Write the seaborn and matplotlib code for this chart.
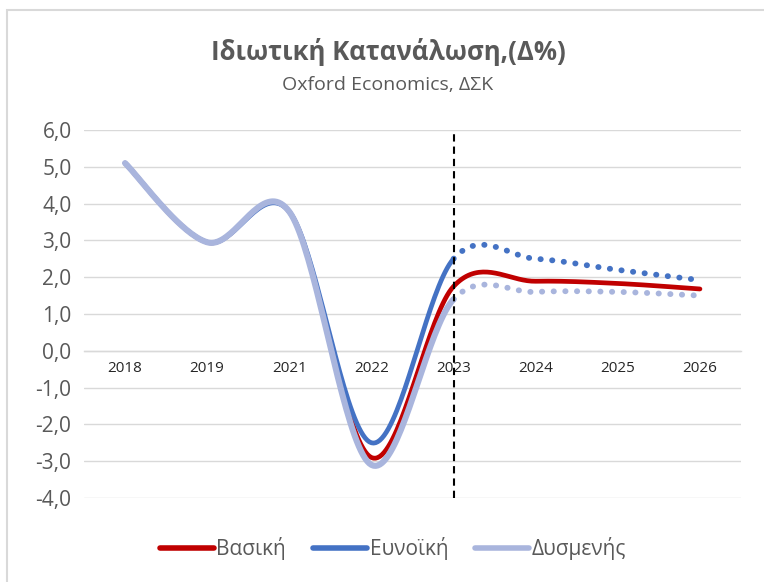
import numpy as np
import pandas as pd
import seaborn as sns
import matplotlib.pyplot as plt
from matplotlib.lines import Line2D
from matplotlib.patches import Rectangle

years = ['2018', '2019', '2021', '2022', '2023', '2024', '2025', '2026']
vasiki = [5.1, 2.95, 3.78, -2.9, 1.75, 1.89, 1.83, 1.68]
eunoiki = [5.1, 2.95, 3.78, -2.5, 2.5, 2.5, 2.2, 1.92]
dysmenis = [5.1, 2.95, 3.78, -3.1, 1.4, 1.6, 1.6, 1.5]
series_names = ['Βασική', 'Ευνοϊκή', 'Δυσμενής']
colors = ['#C00000', '#4472C4', '#A9B5DD']
split_year = '2023'


def smooth(vals, n=40):
    # excel-like smoothed line: cubic bezier through the points
    y = np.asarray(vals, dtype=float)
    x = np.arange(len(y), dtype=float)
    xs, ys, seg = [], [], []
    for i in range(len(y) - 1):
        i0, i2 = max(i - 1, 0), min(i + 2, len(y) - 1)
        p0, p3 = np.array([x[i], y[i]]), np.array([x[i + 1], y[i + 1]])
        c1 = p0 + (np.array([x[i + 1], y[i + 1]]) - np.array([x[i0], y[i0]])) / 6
        c2 = p3 - (np.array([x[i2], y[i2]]) - p0) / 6
        t = np.linspace(0, 1, n)[:, None]
        b = (1 - t) ** 3 * p0 + 3 * (1 - t) ** 2 * t * c1 + 3 * (1 - t) * t ** 2 * c2 + t ** 3 * p3
        xs.extend(b[:, 0]); ys.extend(b[:, 1]); seg.extend([i] * n)
    return pd.DataFrame({'x': xs, 'y': ys, 'seg': seg})


sns.set_theme(style='white')
plt.rcParams['font.family'] = ['Open Sans', 'DejaVu Sans']

fig = plt.figure(figsize=(7.64, 5.82), dpi=100)
ax = fig.add_axes([84 / 764, 1 - 498 / 582, (741 - 84) / 764, (498 - 130) / 582])

split = years.index(split_year)
widths = [3.4, 3.4, 4.4]
for name, vals, col, lw in zip(series_names, [vasiki, eunoiki, dysmenis], colors, widths):
    df = smooth(vals)
    if name == 'Βασική':
        sns.lineplot(data=df, x='x', y='y', sort=False, color=col, lw=lw,
                     solid_capstyle='round', ax=ax, zorder=3)
    else:
        solid = df[df['seg'] < split]
        dotted = df[df['seg'] >= split]
        sns.lineplot(data=solid, x='x', y='y', sort=False, color=col, lw=lw,
                     solid_capstyle='round', ax=ax, zorder=3)
        ax.plot(dotted['x'], dotted['y'], color=col, lw=4.2,
                linestyle=(0, (0.05, 1.95)), dash_capstyle='round', zorder=3)

ax.axvline(split, color='black', lw=1.5, linestyle=(0, (3.5, 2.4)), zorder=4)

ax.set_xlim(-0.5, len(years) - 0.5)
ax.set_ylim(-4, 6)
yt = np.arange(-4, 7)
ax.set_yticks(yt)
ax.set_yticklabels([f'{v:.1f}'.replace('.', ',') for v in yt], fontsize=15, color='#595959')
ax.set_xticks(range(len(years)))
ax.set_xticklabels(years, fontsize=5.2, color='#595959')
ax.tick_params(axis='both', length=0)
ax.tick_params(axis='y', pad=9)
ax.tick_params(axis='x', pad=7)
ax.grid(axis='y', color='#D9D9D9', lw=1.0)
ax.set_axisbelow(True)
for s in ['top', 'right', 'left']:
    ax.spines[s].set_visible(False)
ax.spines['bottom'].set_position(('data', 0))
ax.spines['bottom'].set_color('#D9D9D9')
ax.spines['bottom'].set_linewidth(1.0)
ax.set_xlabel('')
ax.set_ylabel('')

fig.text(388 / 764, 1 - 52 / 582, 'Ιδιωτική Κατανάλωση,(Δ%)', ha='center', va='center',
         fontsize=18.5, fontweight='bold', color='#595959')
fig.text(388 / 764, 1 - 85 / 582, 'Oxford Economics, ΔΣΚ', ha='center', va='center',
         fontsize=14, color='#595959')

handles = [Line2D([], [], color=c, lw=4, solid_capstyle='round') for c in colors]
fig.legend(handles, series_names, loc='center', bbox_to_anchor=(393 / 764, 1 - 549 / 582),
           ncol=3, frameon=False, fontsize=15, handlelength=2.6, handletextpad=0.1,
           columnspacing=1.3, labelcolor='#595959')

fig.patches.append(Rectangle((7 / 764, -0.1), 1.2, 1 - 10 / 582 + 0.1, transform=fig.transFigure,
                             fill=False, edgecolor='#D9D9D9', lw=1.5))

fig.savefig('out.png', dpi=100)
